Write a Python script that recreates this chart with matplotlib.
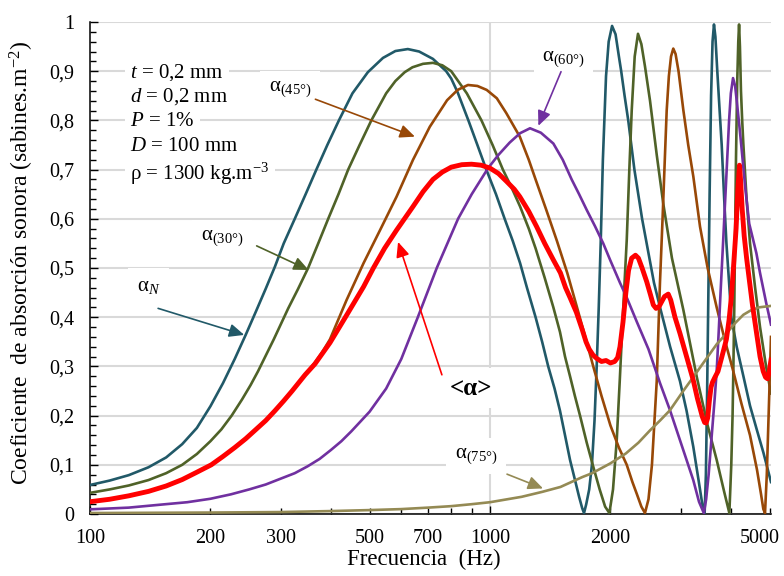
import numpy as np
import matplotlib
matplotlib.use("Agg")
import matplotlib.pyplot as plt
from matplotlib.ticker import FixedLocator, FixedFormatter, FuncFormatter, MultipleLocator

plt.rcParams['font.family'] = ['Liberation Serif', 'DejaVu Serif']
plt.rcParams['mathtext.fontset'] = 'custom'
plt.rcParams['mathtext.rm'] = 'Liberation Serif'
plt.rcParams['mathtext.it'] = 'Liberation Serif:italic'
plt.rcParams['mathtext.bf'] = 'Liberation Serif:bold'

# alpha_N (normal incidence)
f_n = [100, 112, 125, 140, 155, 170, 185, 200, 215, 230, 245, 260, 275, 290, 305, 325, 346, 368,
       392, 419, 453, 495, 540, 580, 623, 665, 720, 777, 800, 830, 883, 930, 979, 1035, 1088, 1140,
       1189, 1237, 1300, 1350, 1398, 1450, 1496, 1540, 1585, 1630, 1670, 1700, 1718, 1740, 1770,
       1798, 1825, 1848, 1870, 1891, 1915, 1950, 1980, 2019, 2060, 2100, 2128, 2170, 2216, 2296,
       2400, 2490, 2570, 2661, 2820, 2985, 3100, 3222, 3320, 3394, 3440, 3465, 3490, 3515, 3540,
       3570, 3600, 3630, 3660, 3700, 3750, 3795, 3850, 3900, 3960, 4011, 4137, 4300, 4467, 4650,
       4824, 4950, 5040]
a_n = [0.059, 0.068, 0.079, 0.095, 0.115, 0.142, 0.175, 0.219, 0.266, 0.315, 0.364, 0.412, 0.458,
       0.503, 0.55, 0.60, 0.65, 0.70, 0.75, 0.80, 0.855, 0.898, 0.927, 0.941, 0.945, 0.94, 0.925,
       0.90, 0.885, 0.857, 0.80, 0.75, 0.70, 0.65, 0.60, 0.555, 0.51, 0.46, 0.40, 0.35, 0.30, 0.255,
       0.21, 0.16, 0.11, 0.07, 0.035, 0.012, 0.002, 0.02, 0.05, 0.10, 0.19, 0.30, 0.42, 0.55, 0.72,
       0.89, 0.96, 0.992, 0.975, 0.93, 0.90, 0.85, 0.80, 0.70, 0.60, 0.53, 0.47, 0.42, 0.34, 0.27,
       0.21, 0.137, 0.07, 0.02, 0.002, 0.08, 0.25, 0.45, 0.65, 0.85, 0.96, 0.995, 0.97, 0.90, 0.82,
       0.75, 0.64, 0.55, 0.47, 0.40, 0.34, 0.28, 0.22, 0.17, 0.125, 0.09, 0.065]

# alpha 30 deg
f_30 = [100, 112, 125, 140, 155, 170, 185, 200, 213, 226, 240, 252, 263, 288, 313, 331, 351, 372,
        394, 418, 442, 472, 505, 550, 580, 612, 640, 680, 720, 760, 800, 875, 952, 1015, 1077, 1130,
        1189, 1250, 1300, 1370, 1440, 1496, 1540, 1585, 1630, 1679, 1745, 1812, 1880, 1940, 1988,
        2030, 2074, 2110, 2154, 2197, 2230, 2261, 2300, 2344, 2390, 2440, 2512, 2611, 2712, 2850,
        3043, 3287, 3500, 3687, 3850, 3966, 4010, 4040, 4057, 4080, 4098, 4120, 4150, 4175, 4194,
        4215, 4240, 4270, 4298, 4380, 4467, 4600, 4732, 4900, 5040]
a_30 = [0.043, 0.05, 0.058, 0.069, 0.083, 0.10, 0.122, 0.148, 0.172, 0.20, 0.233, 0.262, 0.29, 0.355,
        0.418, 0.457, 0.50, 0.55, 0.60, 0.65, 0.70, 0.75, 0.80, 0.855, 0.88, 0.898, 0.908, 0.915,
        0.917, 0.912, 0.90, 0.855, 0.80, 0.75, 0.70, 0.665, 0.625, 0.58, 0.54, 0.48, 0.42, 0.37, 0.32,
        0.28, 0.24, 0.20, 0.145, 0.096, 0.05, 0.015, 0.002, 0.05, 0.15, 0.27, 0.421, 0.557, 0.70,
        0.821, 0.93, 0.976, 0.955, 0.91, 0.84, 0.73, 0.63, 0.52, 0.415, 0.279, 0.18, 0.11, 0.045,
        0.002, 0.10, 0.20, 0.286, 0.42, 0.557, 0.72, 0.88, 0.96, 0.995, 0.95, 0.86, 0.80, 0.753,
        0.64, 0.55, 0.46, 0.38, 0.30, 0.245]

# alpha 45 deg
f_45 = [100, 112, 125, 140, 155, 170, 185, 201, 215, 230, 245, 260, 275, 290, 305, 320, 345, 365,
        380, 398, 415, 438, 483, 531, 584, 642, 707, 781, 830, 881, 930, 981, 1040, 1098, 1187, 1250,
        1300, 1380, 1470, 1560, 1650, 1730, 1812, 1900, 2000, 2100, 2197, 2270, 2330, 2390, 2440,
        2490, 2540, 2611, 2660, 2700, 2735, 2765, 2800, 2835, 2872, 2910, 2960, 3043, 3130, 3223,
        3350, 3500, 3687, 3860, 4057, 4250, 4467, 4650, 4760, 4823, 4870, 4920, 4980, 5040]
a_45 = [0.025, 0.03, 0.037, 0.046, 0.057, 0.07, 0.085, 0.10, 0.117, 0.135, 0.153, 0.172, 0.19, 0.21,
        0.23, 0.25, 0.283, 0.308, 0.328, 0.355, 0.39, 0.435, 0.51, 0.577, 0.645, 0.72, 0.787, 0.841,
        0.862, 0.872, 0.87, 0.862, 0.845, 0.815, 0.767, 0.72, 0.68, 0.62, 0.555, 0.49, 0.42, 0.36,
        0.30, 0.24, 0.18, 0.135, 0.10, 0.065, 0.04, 0.015, 0.002, 0.03, 0.10, 0.27, 0.47, 0.60,
        0.72, 0.82, 0.89, 0.93, 0.946, 0.935, 0.90, 0.821, 0.75, 0.686, 0.584, 0.50, 0.42, 0.355,
        0.29, 0.225, 0.16, 0.09, 0.04, 0.01, 0.002, 0.08, 0.22, 0.36]

# alpha 60 deg
f_60 = [100, 125, 150, 175, 200, 225, 250, 275, 300, 325, 350, 375, 400, 425, 450, 500, 550, 600,
        660, 736, 832, 900, 989, 1050, 1120, 1189, 1259, 1340, 1440, 1520, 1600, 1670, 1745, 1830,
        1919, 2000, 2113, 2197, 2330, 2490, 2661, 2818, 2985, 3100, 3222, 3330, 3424, 3470, 3520,
        3560, 3600, 3645, 3687, 3730, 3770, 3830, 3900, 3960, 4000, 4051, 4100, 4150, 4200, 4247,
        4350, 4447, 4540, 4634, 4732, 4900, 5040]
a_60 = [0.0095, 0.013, 0.019, 0.024, 0.031, 0.04, 0.05, 0.06, 0.072, 0.083, 0.097, 0.112, 0.13,
        0.148, 0.168, 0.208, 0.255, 0.315, 0.40, 0.50, 0.60, 0.65, 0.703, 0.73, 0.755, 0.774, 0.784,
        0.775, 0.753, 0.72, 0.68, 0.65, 0.618, 0.585, 0.55, 0.515, 0.47, 0.44, 0.39, 0.335, 0.266,
        0.211, 0.15, 0.11, 0.069, 0.025, 0.002, 0.03, 0.08, 0.13, 0.18, 0.235, 0.29, 0.37, 0.45,
        0.56, 0.69, 0.80, 0.855, 0.886, 0.87, 0.83, 0.79, 0.75, 0.66, 0.59, 0.56, 0.53, 0.49, 0.43,
        0.385]

# alpha 75 deg
f_75 = [100, 200, 300, 400, 500, 600, 700, 800, 900, 1000, 1200, 1350, 1500, 1700, 1800, 2000, 2185,
        2350, 2512, 2661, 2818, 3041, 3200, 3400, 3687, 3900, 4100, 4300, 4467, 4700, 5040]
a_75 = [0.002, 0.003, 0.004, 0.006, 0.008, 0.01, 0.013, 0.016, 0.02, 0.024, 0.035, 0.045, 0.055,
        0.075, 0.083, 0.103, 0.123, 0.145, 0.17, 0.19, 0.211, 0.25, 0.275, 0.305, 0.345, 0.367,
        0.388, 0.405, 0.413, 0.42, 0.423]

# <alpha> average
f_avg = [100, 112, 125, 140, 155, 170, 185, 201, 215, 230, 245, 260, 275, 290, 305, 320, 345, 365,
         398, 435, 483, 511, 545, 584, 642, 680, 720, 760, 800, 850, 899, 950, 1000, 1050, 1100,
         1150, 1187, 1250, 1308, 1370, 1441, 1500, 1545, 1585, 1644, 1700, 1738, 1770, 1810, 1850,
         1900, 1950, 2000, 2050, 2085, 2113, 2150, 2186, 2220, 2260, 2310, 2350, 2400, 2465, 2520,
         2560, 2600, 2640, 2680, 2730, 2790, 2830, 2900, 2985, 3100, 3222, 3300, 3394, 3440, 3470,
         3500, 3540, 3570, 3600, 3650, 3715, 3800, 3899, 3960, 4011, 4060, 4123, 4165, 4204, 4230,
         4270, 4320, 4380, 4450, 4530, 4634, 4732, 4820, 4884, 4940, 4990, 5040]
a_avg = [0.025, 0.03, 0.037, 0.046, 0.057, 0.07, 0.085, 0.10, 0.117, 0.135, 0.153, 0.172, 0.19, 0.21,
         0.23, 0.25, 0.283, 0.305, 0.348, 0.40, 0.462, 0.50, 0.54, 0.577, 0.625, 0.655, 0.68, 0.695,
         0.705, 0.71, 0.711, 0.709, 0.703, 0.692, 0.676, 0.66, 0.645, 0.615, 0.584, 0.55, 0.516,
         0.49, 0.46, 0.44, 0.41, 0.375, 0.35, 0.335, 0.323, 0.316, 0.31, 0.312, 0.307, 0.31, 0.318,
         0.34, 0.39, 0.45, 0.495, 0.52, 0.526, 0.52, 0.50, 0.472, 0.445, 0.425, 0.418, 0.42, 0.43,
         0.442, 0.447, 0.435, 0.40, 0.367, 0.32, 0.272, 0.235, 0.198, 0.186, 0.185, 0.195, 0.235,
         0.258, 0.268, 0.278, 0.29, 0.32, 0.355, 0.395, 0.44, 0.50, 0.58, 0.66, 0.709, 0.68, 0.62,
         0.565, 0.52, 0.475, 0.425, 0.37, 0.32, 0.29, 0.278, 0.275, 0.29, 0.313]

c_n, c_30, c_45, c_60, c_75 = '#215968', '#4F6228', '#984807', '#7030A0', '#948A54'

fig = plt.figure(figsize=(7.84, 5.76), dpi=100)
ax = fig.add_axes([0.1148, 0.1076, 0.8686, 0.8542])

ax.plot(f_n, a_n, color=c_n, lw=1.9, zorder=3)
ax.plot(f_30, a_30, color=c_30, lw=1.9, zorder=3)
ax.plot(f_45, a_45, color=c_45, lw=1.9, zorder=3)
ax.plot(f_60, a_60, color=c_60, lw=1.9, zorder=3)
ax.plot(f_75, a_75, color=c_75, lw=1.9, zorder=3)
ax.plot(f_avg, a_avg, color='#FF0000', lw=3.5, zorder=4, solid_joinstyle='round')

ax.set_xscale('log')
ax.set_xlim(100, 5040)
ax.set_ylim(0, 1)

ax.xaxis.set_major_locator(FixedLocator([100, 1000]))
ax.xaxis.set_major_formatter(FixedFormatter(['100', '1000']))
ax.xaxis.set_minor_locator(FixedLocator([200, 300, 400, 500, 600, 700, 800, 900, 2000, 3000, 4000, 5000]))
ax.xaxis.set_minor_formatter(FixedFormatter(['200', '300', '', '500', '', '700', '', '', '2000', '', '', '']))
# last tick label sits a little left of its tick, as in the original
ax.annotate('5000', xy=(5000, 0), xycoords=('data', 'axes fraction'), xytext=(-7, -11),
            textcoords='offset points', ha='center', va='top', fontsize=14.5)

ax.yaxis.set_major_locator(MultipleLocator(0.1))
ax.yaxis.set_minor_locator(MultipleLocator(0.02))
ax.yaxis.set_major_formatter(FuncFormatter(
    lambda v, p: '0' if abs(v) < 1e-9 else ('1' if abs(v - 1) < 1e-9 else f'{v:.1f}'.replace('.', ','))))

ax.tick_params(axis='both', which='both', direction='in', labelsize=14.5, pad=11, color='black')
ax.tick_params(axis='both', which='major', length=6, width=1)
ax.tick_params(axis='both', which='minor', length=4, width=1)

for s in ['top', 'right']:
    ax.spines[s].set_visible(False)
ax.spines['left'].set_linewidth(1.1)
ax.spines['bottom'].set_linewidth(1.1)

ax.set_axisbelow(True)
ax.yaxis.grid(True, color='#D9D9D9', lw=1.5)
ax.axvline(1000, color='#D9D9D9', lw=1.5, zorder=0.5)

ax.set_xlabel('Frecuencia  (Hz)', fontsize=16.5)
ax.xaxis.set_label_coords(0.49, -0.07)
ax.set_ylabel('Coeficiente  de absorción sonora (sabines.m$^{-2}$)', fontsize=17)
ax.yaxis.set_label_coords(-0.08, 0.51)

box = dict(fc='white', ec='none', pad=4)
params = ['$t$ = 0,2 mm', '$d$ = 0,2 mm', '$P$ = 1%', '$D$ = 100 mm', 'ρ = 1300 kg.m$^{-3}$']
ys = [0.888, 0.838, 0.789, 0.738, 0.679]
for s, y in zip(params, ys):
    ax.text(126, y, s, fontsize=15, ha='left', va='baseline', bbox=box, zorder=1)


def label(txt, xt, yt, start, tip, color, size=15, weight='normal'):
    ax.text(xt, yt, txt, fontsize=size, ha='center', va='center', fontweight=weight,
            bbox=dict(fc='white', ec='none', pad=6), zorder=1)
    ax.annotate('', xy=tip, xytext=start, zorder=5,
                arrowprops=dict(arrowstyle='-|>,head_length=0.45,head_width=0.2', color=color,
                                lw=1.2, mutation_scale=20, shrinkA=0, shrinkB=0))


label('α$_{N}$', 140, 0.463, (148, 0.418), (243, 0.364), c_n)
label('α$_{(30°)}$', 214, 0.561, (261, 0.545), (352, 0.496), c_30)
label('α$_{(45°)}$', 316, 0.864, (366, 0.843), (649, 0.767), c_45)
label('α$_{(60°)}$', 1527, 0.925, (1505, 0.899), (1321, 0.789), c_60)
label('<α>', 894, 0.256, (758, 0.283), (589, 0.553), '#FF0000', size=18, weight='bold')
label('α$_{(75°)}$', 923, 0.118, (1103, 0.081), (1357, 0.052), c_75)

fig.savefig('out.png', dpi=100)
